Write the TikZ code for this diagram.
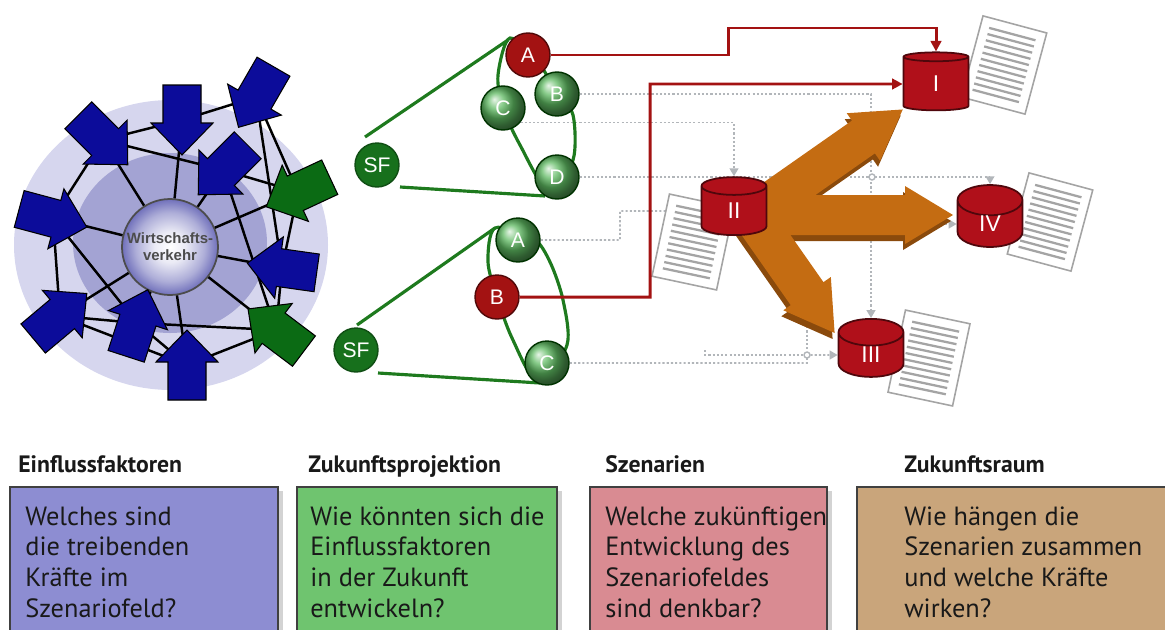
\documentclass[tikz,border=0pt]{standalone}
\usepackage{fontspec}
\setmainfont{PT Sans}
\newfontfamily\arialfont{Liberation Sans}
\usetikzlibrary{calc,arrows.meta,shapes.geometric,shadows}
\pgfdeclarelayer{back}
\pgfsetlayers{back,main}
\def\pxu{0.02cm}

\definecolor{navy}{HTML}{0C0C9A}
\definecolor{forest}{HTML}{0B6B14}
\definecolor{halo}{HTML}{D6D6EE}
\definecolor{core}{HTML}{A3A3D3}
\definecolor{wvblue}{HTML}{34349E}
\definecolor{sfgreen}{HTML}{17701C}
\definecolor{ballgreen}{HTML}{5DB860}
\definecolor{funnelgreen}{HTML}{1E7A1E}
\definecolor{darkred}{HTML}{A31212}
\definecolor{cylred}{HTML}{B0101A}
\definecolor{rust}{HTML}{C46C12}
\definecolor{rustdark}{HTML}{8A4A0C}
\definecolor{dotgray}{HTML}{B2B6BA}
\definecolor{docgray}{HTML}{A4A4A4}
\definecolor{boxblue}{HTML}{8D8DD2}
\definecolor{boxgreen}{HTML}{6FC46F}
\definecolor{boxred}{HTML}{D98B92}
\definecolor{boxtan}{HTML}{C9A57B}

\pgfdeclareradialshading{wvshade}{\pgfpoint{0bp}{0bp}}{color(0bp)=(white); color(8bp)=(white!90!wvblue); color(18bp)=(white!60!wvblue); color(26bp)=(white!25!wvblue); color(32bp)=(wvblue); color(50bp)=(wvblue)}

\def\forcearrow[#1](#2)(#3){%
  \begin{scope}[shift={(#2)},rotate=#3]
    \filldraw[#1] (-35,-19) -- (3,-19) -- (3,-31) -- (35,0) -- (3,31) -- (3,19) -- (-35,19) -- cycle;
  \end{scope}}
\def\trendarrow[#1](#2)(#3:#4){%
  \begin{scope}[shift={(#2)},rotate=#3]
    \fill[#1] (0,-20) -- (#4-48,-20) -- (#4-48,-29) -- (#4,0) -- (#4-48,29) -- (#4-48,20) -- (0,20) -- cycle;
  \end{scope}}
\def\docsheet(#1)(#2){%
  \begin{scope}[shift={(#1)},rotate=#2]
    \draw[docgray, fill=white, line width=0.9pt] (-33,-42) rectangle (33,42);
    \foreach \k in {0,...,10} \draw[docgray, line width=1.3pt] (-24,-32+6.4*\k) -- (24,-32+6.4*\k);
  \end{scope}}

\begin{document}
\begin{tikzpicture}[x=0.02cm,y=-0.02cm,
    web/.style={line width=1.4pt},
    navyarrow/.style={fill=navy, draw=black, line width=0.6pt},
    greenarrow/.style={fill=forest, draw=black, line width=0.6pt},
    wvnode/.style={circle, draw=black!70, line width=1pt, shade, shading=wvshade, minimum size=96*\pxu, inner sep=0, align=center, text=black!70, font=\arialfont\bfseries\fontsize{8.5}{9.5}\selectfont},
    funnel/.style={funnelgreen, line width=1.8pt},
    ball/.style={circle, minimum size=44*\pxu, inner sep=0, text=white, font=\arialfont\fontsize{12}{12}\selectfont, line width=0.8pt},
    greenball/.style={ball, ball color=ballgreen, draw=black!60!green!50!black},
    redball/.style={ball, fill=darkred, draw=black!50!darkred},
    sfball/.style={ball, fill=sfgreen, draw=sfgreen!70!black},
    cyl/.style={cylinder, shape border rotate=90, aspect=1.4, draw=black!55!cylred, line width=1pt, fill=cylred, minimum width=65*\pxu, minimum height=58*\pxu, inner sep=0, text=white, font=\arialfont\fontsize{13}{13}\selectfont},
    redline/.style={darkred, line width=1.7pt, -{Triangle[length=6pt,width=6pt]}},
    dotplain/.style={dotgray, line width=1pt, dash pattern=on 1.2pt off 1.2pt},
    dotline/.style={dotplain, -{Triangle[length=4.5pt,width=5pt]}},
    knot/.style={dotgray, fill=white, line width=0.8pt},
    panel/.style={draw=black!75, line width=1pt, drop shadow={shadow xshift=3pt, shadow yshift=-2pt, opacity=.35}},
    head/.style={anchor=base west, inner sep=0, text=black!90, font=\bfseries\fontsize{13.5}{15}\selectfont},
    boxtext/.style={anchor=north west, align=left, inner sep=0, text=black!90, font=\fontsize{15}{17.5}\selectfont}]

  \useasboundingbox (0,0) rectangle (1165,629);
  \clip (0,0) rectangle (1165,629);

  \fill[halo] (171,245) ellipse (157 and 145);
  \fill[core] (170,243) ellipse (97 and 90);

  \coordinate (f1) at (103,140);
  \coordinate (f2) at (182,120);
  \coordinate (f3) at (256,97);
  \coordinate (f4) at (223,170);
  \coordinate (f5) at (298,192);
  \coordinate (f6) at (53,218);
  \coordinate (f7) at (282,268);
  \coordinate (f8) at (60,316);
  \coordinate (f9) at (137,323);
  \coordinate (f10) at (276,330);
  \coordinate (f11) at (187,365);

  \node[wvnode] (wv) at (170,247) {Wirtschafts-\\verkehr};

  \foreach \ea/\eb in {wv/f1,wv/f2,wv/f4,wv/f5,wv/f6,wv/f7,wv/f8,wv/f9,wv/f10,wv/f11,
      f1/f2,f2/f3,f1/f4,f1/f6,f3/f5,f3/f7,f4/f5,f4/f10,f5/f7,f6/f8,f6/f9,
      f8/f9,f8/f11,f9/f10,f9/f11,f11/f10,f7/f10}
    \draw[web] (\ea) -- (\eb);

  \forcearrow[navyarrow](f1)(-45)
  \forcearrow[navyarrow](f2)(-90)
  \forcearrow[navyarrow](f3)(-120)
  \forcearrow[navyarrow](f4)(-135)
  \forcearrow[greenarrow](f5)(-155)
  \forcearrow[navyarrow](f6)(-15)
  \forcearrow[navyarrow](f7)(172)
  \forcearrow[navyarrow](f8)(40)
  \forcearrow[navyarrow](f9)(72)
  \forcearrow[greenarrow](f10)(143)
  \forcearrow[navyarrow](f11)(90)

  \draw[funnel] (365,137) -- (508,40);
  \draw[funnel] (400,187) -- (545,196);
  \draw[funnel] plot[smooth cycle] coordinates {(510,38) (498,75) (503,108) (520,145) (548,190) (573,160) (573,115) (557,94) (540,65)};
  \draw[funnel] (357,325) -- (495,228);
  \draw[funnel] (378,373) -- (540,383);
  \draw[funnel] plot[smooth cycle] coordinates {(495,228) (488,262) (497,297) (512,338) (538,382) (567,345) (563,300) (550,262) (533,238)};

  \node[sfball] (sf1) at (377,165) {SF};
  \node[redball] (a1) at (528,55) {A};
  \node[greenball] (b1) at (557,94) {B};
  \node[greenball] (c1) at (503,108) {C};
  \node[greenball] (d1) at (557,177) {D};

  \node[sfball] (sf2) at (356,350) {SF};
  \node[greenball] (a2) at (518,240) {A};
  \node[redball] (b2) at (497,297) {B};
  \node[greenball] (c2) at (547,363) {C};

  \docsheet(1004,65)(-15)
  \docsheet(693,242)(-12)
  \docsheet(929,358)(-12)
  \docsheet(1050,222)(-15)

  \coordinate (o) at (752,215);
  \coordinate (os) at (750,221);
  \trendarrow[rustdark](os)(35:184)
  \trendarrow[rustdark](os)(0:201)
  \trendarrow[rustdark](os)(-55:144)
  \trendarrow[rust](o)(35:184)
  \trendarrow[rust](o)(0:201)
  \trendarrow[rust](o)(-55:144)

  \node[cyl] (s1) at (936,84) {I};
  \node[cyl] (s2) at (734,211) {II};
  \node[cyl] (s3) at (871,355) {III};
  \node[cyl] (s4) at (990,224) {IV};

  \draw[redline] (a1.east) -| (728,28) -| (s1.north);
  \draw[redline] (b2.east) -| (650,84) -- (s1.west);

  \begin{pgfonlayer}{back}
    \draw[dotline] (b1.east) -| (s3.north);
    \draw[dotline] (c1.-40) -| (s2.north);
    \draw[dotline] (d1.east) -| (s4.north);
    \draw[dotline] (a2.east) -| (620,211) -- (s2.west);
    \draw[dotline] (c2.east) -| (807,355) -- (s3.west);
    \draw[dotplain] (807,322) -- (807,355);
    \draw[dotplain] (705,350) |- (807,355);
    \draw[dotline] (s2.east |- s4.west) -- (s4.west);
    \draw[knot] (872,177) circle (3);
    \draw[knot] (807,355) circle (3);
  \end{pgfonlayer}

  \draw[panel, fill=boxblue] (10,487) rectangle (278,660);
  \draw[panel, fill=boxgreen] (297,487) rectangle (557,660);
  \draw[panel, fill=boxred] (590,487) rectangle (827,660);
  \draw[panel, fill=boxtan] (857,487) rectangle (1180,660);

  \node[head] (h1) at (18,472) {Einflussfaktoren};
  \node[head] (h2) at (308,472) {Zukunftsprojektion};
  \node[head] (h3) at (605,472) {Szenarien};
  \node[head] (h4) at (904,472) {Zukunftsraum};

  \node[boxtext] (q1) at (25,506) {Welches sind\\die treibenden\\Kräfte im\\Szenariofeld?};
  \node[boxtext] (q2) at (310,506) {Wie könnten sich die\\Einflussfaktoren\\in der Zukunft\\entwickeln?};
  \node[boxtext] (q3) at (605,506) {Welche zukünftigen\\Entwicklung des\\Szenariofeldes\\sind denkbar?};
  \node[boxtext] (q4) at (904,506) {Wie hängen die\\Szenarien zusammen\\und welche Kräfte\\wirken?};
\end{tikzpicture}
\end{document}
